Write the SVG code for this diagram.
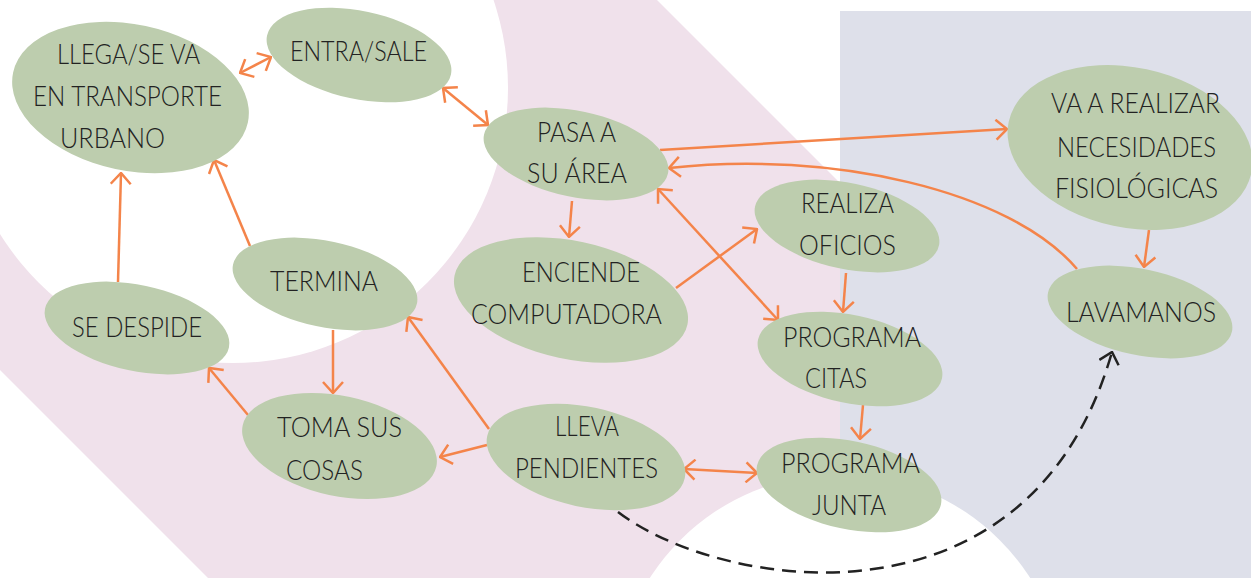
<svg xmlns="http://www.w3.org/2000/svg" width="1251" height="578" viewBox="0 0 1251 578">
<style>
.node ellipse{fill:#bdcdae}
.node text{font-family:Lato,"Liberation Sans",sans-serif;font-size:28px;fill:#222;font-weight:300}
.conn{fill:none;stroke:#f4844a;stroke-width:2.5}
.dash{fill:none;stroke:#222;stroke-width:2.5;stroke-dasharray:14 8}
</style>
<defs>
<marker id="ah" viewBox="0 0 14 22" refX="13" refY="11" markerWidth="14" markerHeight="22" markerUnits="userSpaceOnUse" orient="auto-start-reverse">
<path d="M2,1 L13,11 L2,21" fill="none" stroke="#f4844a" stroke-width="2.5"/>
</marker>
<marker id="ahk" viewBox="0 0 14 22" refX="13" refY="11" markerWidth="14" markerHeight="22" markerUnits="userSpaceOnUse" orient="auto">
<path d="M2,1 L13,11 L2,21" fill="none" stroke="#222" stroke-width="2.5"/>
</marker>
</defs>
<g id="background">
<rect x="0" y="0" width="1251" height="578" fill="#ffffff"/>
<polygon points="0,0 657,0 1235,578 208,578 0,370" fill="#f0e1eb"/>
<circle cx="233" cy="88" r="275" fill="#ffffff"/>
<rect x="840" y="11" width="411" height="567" fill="#dee0ea"/>
<circle cx="840" cy="700" r="226" fill="#ffffff"/>
</g>
<g id="connectors">
<line class="conn" x1="240" y1="73" x2="271" y2="57" marker-start="url(#ah)" marker-end="url(#ah)"/>
<line class="conn" x1="443" y1="88" x2="488" y2="125" marker-start="url(#ah)" marker-end="url(#ah)"/>
<line class="conn" x1="572" y1="201" x2="569" y2="237" marker-end="url(#ah)"/>
<line class="conn" x1="660" y1="150" x2="1007" y2="129" marker-end="url(#ah)"/>
<path class="conn" d="M1077,269 C1010,190 830,150 669,168" marker-end="url(#ah)"/>
<line class="conn" x1="658" y1="189" x2="778" y2="320" marker-start="url(#ah)" marker-end="url(#ah)"/>
<line class="conn" x1="676" y1="288" x2="757" y2="229" marker-end="url(#ah)"/>
<line class="conn" x1="846" y1="273" x2="843" y2="312" marker-end="url(#ah)"/>
<line class="conn" x1="863" y1="405" x2="860" y2="439" marker-end="url(#ah)"/>
<line class="conn" x1="1149" y1="230" x2="1144" y2="267" marker-end="url(#ah)"/>
<line class="conn" x1="684" y1="469" x2="757" y2="473" marker-start="url(#ah)" marker-end="url(#ah)"/>
<line class="conn" x1="487" y1="445" x2="440" y2="457" marker-end="url(#ah)"/>
<line class="conn" x1="489" y1="429" x2="408" y2="317" marker-end="url(#ah)"/>
<line class="conn" x1="248" y1="415" x2="209" y2="368" marker-end="url(#ah)"/>
<line class="conn" x1="333" y1="330" x2="333" y2="393" marker-end="url(#ah)"/>
<line class="conn" x1="118" y1="282" x2="121" y2="173" marker-end="url(#ah)"/>
<line class="conn" x1="250" y1="246" x2="214" y2="160" marker-end="url(#ah)"/>
<path class="dash" d="M618,512 C720,590 1030,640 1112,352" marker-end="url(#ahk)"/>
</g>
<g id="n-llega" class="node">
<ellipse cx="130.5" cy="97.5" rx="120" ry="73" transform="rotate(12 130.5 97.5)"/>
<text x="57" y="64" textLength="143" lengthAdjust="spacingAndGlyphs">LLEGA/SE VA</text>
<text x="33" y="106" textLength="189" lengthAdjust="spacingAndGlyphs">EN TRANSPORTE</text>
<text x="60" y="148" textLength="105" lengthAdjust="spacingAndGlyphs">URBANO</text>
</g>
<g id="n-entra" class="node">
<ellipse cx="359" cy="55" rx="94" ry="44" transform="rotate(12 359 55)"/>
<text x="290" y="61" textLength="137" lengthAdjust="spacingAndGlyphs">ENTRA/SALE</text>
</g>
<g id="n-pasa" class="node">
<ellipse cx="576" cy="154" rx="94" ry="43" transform="rotate(12 576 154)"/>
<text x="537" y="142" textLength="79" lengthAdjust="spacingAndGlyphs">PASA A</text>
<text x="527" y="183" textLength="100" lengthAdjust="spacingAndGlyphs">SU ÁREA</text>
</g>
<g id="n-va" class="node">
<ellipse cx="1130" cy="147.5" rx="124" ry="80" transform="rotate(12 1130 147.5)"/>
<text x="1051" y="113" textLength="169" lengthAdjust="spacingAndGlyphs">VA A REALIZAR</text>
<text x="1057" y="157" textLength="159" lengthAdjust="spacingAndGlyphs">NECESIDADES</text>
<text x="1055" y="198" textLength="163" lengthAdjust="spacingAndGlyphs">FISIOLÓGICAS</text>
</g>
<g id="n-realiza" class="node">
<ellipse cx="847" cy="226" rx="94" ry="43" transform="rotate(12 847 226)"/>
<text x="801" y="213" textLength="93" lengthAdjust="spacingAndGlyphs">REALIZA</text>
<text x="799" y="255" textLength="97" lengthAdjust="spacingAndGlyphs">OFICIOS</text>
</g>
<g id="n-enciende" class="node">
<ellipse cx="571" cy="300" rx="119" ry="59" transform="rotate(12 571 300)"/>
<text x="522" y="282" textLength="118" lengthAdjust="spacingAndGlyphs">ENCIENDE</text>
<text x="471" y="324" textLength="191" lengthAdjust="spacingAndGlyphs">COMPUTADORA</text>
</g>
<g id="n-termina" class="node">
<ellipse cx="325" cy="284" rx="94" ry="43" transform="rotate(12 325 284)"/>
<text x="270" y="291" textLength="108" lengthAdjust="spacingAndGlyphs">TERMINA</text>
</g>
<g id="n-despide" class="node">
<ellipse cx="137" cy="328" rx="94" ry="43" transform="rotate(12 137 328)"/>
<text x="72" y="337" textLength="130" lengthAdjust="spacingAndGlyphs">SE DESPIDE</text>
</g>
<g id="n-toma" class="node">
<ellipse cx="339.5" cy="446" rx="99" ry="50" transform="rotate(12 339.5 446)"/>
<text x="277" y="437" textLength="125" lengthAdjust="spacingAndGlyphs">TOMA SUS</text>
<text x="286" y="480" textLength="77" lengthAdjust="spacingAndGlyphs">COSAS</text>
</g>
<g id="n-lleva" class="node">
<ellipse cx="586" cy="457" rx="101" ry="50" transform="rotate(12 586 457)"/>
<text x="555" y="436" textLength="64" lengthAdjust="spacingAndGlyphs">LLEVA</text>
<text x="515" y="478" textLength="143" lengthAdjust="spacingAndGlyphs">PENDIENTES</text>
</g>
<g id="n-citas" class="node">
<ellipse cx="850" cy="359" rx="94" ry="44" transform="rotate(12 850 359)"/>
<text x="783" y="347" textLength="138" lengthAdjust="spacingAndGlyphs">PROGRAMA</text>
<text x="805" y="388" textLength="62" lengthAdjust="spacingAndGlyphs">CITAS</text>
</g>
<g id="n-junta" class="node">
<ellipse cx="849" cy="485" rx="94" ry="44" transform="rotate(12 849 485)"/>
<text x="781" y="473" textLength="139" lengthAdjust="spacingAndGlyphs">PROGRAMA</text>
<text x="812" y="515" textLength="74" lengthAdjust="spacingAndGlyphs">JUNTA</text>
</g>
<g id="n-lavamanos" class="node">
<ellipse cx="1140" cy="312" rx="94" ry="43" transform="rotate(12 1140 312)"/>
<text x="1066" y="322" textLength="150" lengthAdjust="spacingAndGlyphs">LAVAMANOS</text>
</g>
</svg>
